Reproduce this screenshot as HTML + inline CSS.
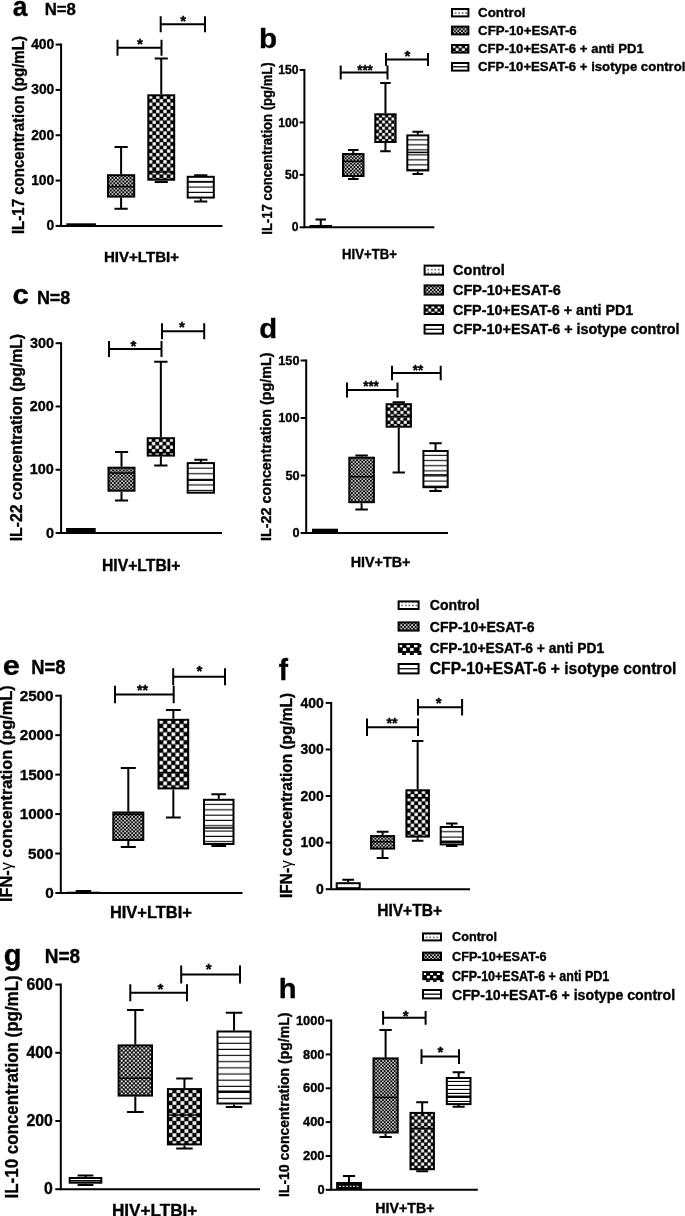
<!DOCTYPE html>
<html><head><meta charset="utf-8"><style>
html,body{margin:0;padding:0;background:#fff;}
svg{display:block;will-change:transform;}
text{font-family:"Liberation Sans",sans-serif;font-size:100px;fill:#000;stroke:#000;stroke-width:0.35px;vector-effect:non-scaling-stroke;}
</style></head><body>
<svg width="685" height="1216" viewBox="0 0 685 1216">
<defs><pattern id="p2" patternUnits="userSpaceOnUse" x="108" y="175.2" width="3.6" height="3.6"><rect width="3.6" height="3.6" fill="#000"/><rect x="0.108" y="0.108" width="1.584" height="1.584" fill="#fff"/><rect x="1.908" y="1.908" width="1.584" height="1.584" fill="#fff"/></pattern><pattern id="p3" patternUnits="userSpaceOnUse" x="148.8" y="95.3" width="7.2" height="7.2"><rect width="7.2" height="7.2" fill="#000"/><rect x="0.18" y="0.18" width="3.24" height="3.24" fill="#fff"/><rect x="3.78" y="3.78" width="3.24" height="3.24" fill="#fff"/></pattern><pattern id="p4" patternUnits="userSpaceOnUse" x="186.7" y="176.8" width="10" height="5.4"><rect width="10" height="5.4" fill="#fff"/><rect y="4.3" width="10" height="1.1" fill="#000"/></pattern><pattern id="p6" patternUnits="userSpaceOnUse" x="343" y="154" width="3.5" height="3.5"><rect width="3.5" height="3.5" fill="#000"/><rect x="0.105" y="0.105" width="1.54" height="1.54" fill="#fff"/><rect x="1.855" y="1.855" width="1.54" height="1.54" fill="#fff"/></pattern><pattern id="p7" patternUnits="userSpaceOnUse" x="375.8" y="114.3" width="6.2" height="6.2"><rect width="6.2" height="6.2" fill="#000"/><rect x="0.155" y="0.155" width="2.79" height="2.79" fill="#fff"/><rect x="3.255" y="3.255" width="2.79" height="2.79" fill="#fff"/></pattern><pattern id="p8" patternUnits="userSpaceOnUse" x="406.3" y="135.4" width="10" height="5"><rect width="10" height="5" fill="#fff"/><rect y="3.9" width="10" height="1.1" fill="#000"/></pattern><pattern id="p10" patternUnits="userSpaceOnUse" x="108.5" y="467.7" width="3.6" height="3.6"><rect width="3.6" height="3.6" fill="#000"/><rect x="0.108" y="0.108" width="1.584" height="1.584" fill="#fff"/><rect x="1.908" y="1.908" width="1.584" height="1.584" fill="#fff"/></pattern><pattern id="p11" patternUnits="userSpaceOnUse" x="148.2" y="438.2" width="7.2" height="7.2"><rect width="7.2" height="7.2" fill="#000"/><rect x="0.18" y="0.18" width="3.24" height="3.24" fill="#fff"/><rect x="3.78" y="3.78" width="3.24" height="3.24" fill="#fff"/></pattern><pattern id="p12" patternUnits="userSpaceOnUse" x="186.7" y="463.1" width="10" height="5.6"><rect width="10" height="5.6" fill="#fff"/><rect y="4.5" width="10" height="1.1" fill="#000"/></pattern><pattern id="p14" patternUnits="userSpaceOnUse" x="349.3" y="457.7" width="3.45" height="3.45"><rect width="3.45" height="3.45" fill="#000"/><rect x="0.104" y="0.104" width="1.518" height="1.518" fill="#fff"/><rect x="1.829" y="1.829" width="1.518" height="1.518" fill="#fff"/></pattern><pattern id="p15" patternUnits="userSpaceOnUse" x="387.1" y="404.2" width="6.6" height="6.6"><rect width="6.6" height="6.6" fill="#000"/><rect x="0.165" y="0.165" width="2.97" height="2.97" fill="#fff"/><rect x="3.465" y="3.465" width="2.97" height="2.97" fill="#fff"/></pattern><pattern id="p16" patternUnits="userSpaceOnUse" x="422.4" y="451" width="10" height="5.1"><rect width="10" height="5.1" fill="#fff"/><rect y="4" width="10" height="1.1" fill="#000"/></pattern><pattern id="p18" patternUnits="userSpaceOnUse" x="113.3" y="812.5" width="3.6" height="3.6"><rect width="3.6" height="3.6" fill="#000"/><rect x="0.108" y="0.108" width="1.584" height="1.584" fill="#fff"/><rect x="1.908" y="1.908" width="1.584" height="1.584" fill="#fff"/></pattern><pattern id="p19" patternUnits="userSpaceOnUse" x="159" y="719.8" width="8.2" height="8.2"><rect width="8.2" height="8.2" fill="#000"/><rect x="0.205" y="0.205" width="3.69" height="3.69" fill="#fff"/><rect x="4.305" y="4.305" width="3.69" height="3.69" fill="#fff"/></pattern><pattern id="p20" patternUnits="userSpaceOnUse" x="203" y="799.8" width="10" height="5.3"><rect width="10" height="5.3" fill="#fff"/><rect y="4.2" width="10" height="1.1" fill="#000"/></pattern><pattern id="p22" patternUnits="userSpaceOnUse" x="371.1" y="836.1" width="3.4" height="3.4"><rect width="3.4" height="3.4" fill="#000"/><rect x="0.102" y="0.102" width="1.496" height="1.496" fill="#fff"/><rect x="1.802" y="1.802" width="1.496" height="1.496" fill="#fff"/></pattern><pattern id="p23" patternUnits="userSpaceOnUse" x="406.9" y="790.3" width="7.4" height="7.4"><rect width="7.4" height="7.4" fill="#000"/><rect x="0.185" y="0.185" width="3.33" height="3.33" fill="#fff"/><rect x="3.885" y="3.885" width="3.33" height="3.33" fill="#fff"/></pattern><pattern id="p24" patternUnits="userSpaceOnUse" x="439.7" y="827" width="10" height="5.3"><rect width="10" height="5.3" fill="#fff"/><rect y="4.2" width="10" height="1.1" fill="#000"/></pattern><pattern id="p26" patternUnits="userSpaceOnUse" x="118.6" y="1045.4" width="4.1" height="4.1"><rect width="4.1" height="4.1" fill="#000"/><rect x="0.123" y="0.123" width="1.804" height="1.804" fill="#fff"/><rect x="2.173" y="2.173" width="1.804" height="1.804" fill="#fff"/></pattern><pattern id="p27" patternUnits="userSpaceOnUse" x="168.4" y="1089.1" width="8" height="8"><rect width="8" height="8" fill="#000"/><rect x="0.2" y="0.2" width="3.6" height="3.6" fill="#fff"/><rect x="4.2" y="4.2" width="3.6" height="3.6" fill="#fff"/></pattern><pattern id="p28" patternUnits="userSpaceOnUse" x="216.5" y="1031.5" width="10" height="6.15"><rect width="10" height="6.15" fill="#fff"/><rect y="5.05" width="10" height="1.1" fill="#000"/></pattern><pattern id="p30" patternUnits="userSpaceOnUse" x="373.5" y="1058.4" width="3.4" height="3.4"><rect width="3.4" height="3.4" fill="#000"/><rect x="0.102" y="0.102" width="1.496" height="1.496" fill="#fff"/><rect x="1.802" y="1.802" width="1.496" height="1.496" fill="#fff"/></pattern><pattern id="p31" patternUnits="userSpaceOnUse" x="411" y="1112.9" width="6.6" height="6.6"><rect width="6.6" height="6.6" fill="#000"/><rect x="0.165" y="0.165" width="2.97" height="2.97" fill="#fff"/><rect x="3.465" y="3.465" width="2.97" height="2.97" fill="#fff"/></pattern><pattern id="p32" patternUnits="userSpaceOnUse" x="445.8" y="1078" width="10" height="4"><rect width="10" height="4" fill="#fff"/><rect y="2.9" width="10" height="1.1" fill="#000"/></pattern><pattern id="p33" patternUnits="userSpaceOnUse" x="453.85" y="11.25" width="3.55" height="3.55"><rect width="3.55" height="3.55" fill="#fff"/><rect x="1.125" y="1.125" width="1.3" height="1.3" fill="#111"/></pattern><pattern id="p34" patternUnits="userSpaceOnUse" x="452" y="26.6" width="3.6" height="3.6"><rect width="3.6" height="3.6" fill="#000"/><rect x="0.108" y="0.108" width="1.584" height="1.584" fill="#fff"/><rect x="1.908" y="1.908" width="1.584" height="1.584" fill="#fff"/></pattern><pattern id="p35" patternUnits="userSpaceOnUse" x="452.5" y="45" width="6.2" height="6.2"><rect width="6.2" height="6.2" fill="#000"/><rect x="0.155" y="0.155" width="2.79" height="2.79" fill="#fff"/><rect x="3.255" y="3.255" width="2.79" height="2.79" fill="#fff"/></pattern><pattern id="p36" patternUnits="userSpaceOnUse" x="426.45" y="267.85" width="3.55" height="3.55"><rect width="3.55" height="3.55" fill="#fff"/><rect x="1.125" y="1.125" width="1.3" height="1.3" fill="#111"/></pattern><pattern id="p37" patternUnits="userSpaceOnUse" x="424.6" y="285.4" width="3.6" height="3.6"><rect width="3.6" height="3.6" fill="#000"/><rect x="0.108" y="0.108" width="1.584" height="1.584" fill="#fff"/><rect x="1.908" y="1.908" width="1.584" height="1.584" fill="#fff"/></pattern><pattern id="p38" patternUnits="userSpaceOnUse" x="425.1" y="305.4" width="6.2" height="6.2"><rect width="6.2" height="6.2" fill="#000"/><rect x="0.155" y="0.155" width="2.79" height="2.79" fill="#fff"/><rect x="3.255" y="3.255" width="2.79" height="2.79" fill="#fff"/></pattern><pattern id="p39" patternUnits="userSpaceOnUse" x="400.45" y="603.65" width="3.55" height="3.55"><rect width="3.55" height="3.55" fill="#fff"/><rect x="1.125" y="1.125" width="1.3" height="1.3" fill="#111"/></pattern><pattern id="p40" patternUnits="userSpaceOnUse" x="398.6" y="622.4" width="3.6" height="3.6"><rect width="3.6" height="3.6" fill="#000"/><rect x="0.108" y="0.108" width="1.584" height="1.584" fill="#fff"/><rect x="1.908" y="1.908" width="1.584" height="1.584" fill="#fff"/></pattern><pattern id="p41" patternUnits="userSpaceOnUse" x="424.85" y="935.65" width="3.55" height="3.55"><rect width="3.55" height="3.55" fill="#fff"/><rect x="1.125" y="1.125" width="1.3" height="1.3" fill="#111"/></pattern><pattern id="p42" patternUnits="userSpaceOnUse" x="423" y="952.6" width="3.6" height="3.6"><rect width="3.6" height="3.6" fill="#000"/><rect x="0.108" y="0.108" width="1.584" height="1.584" fill="#fff"/><rect x="1.908" y="1.908" width="1.584" height="1.584" fill="#fff"/></pattern></defs>
<path d="M61.1 43.6V225.9H222.5" stroke="#000" stroke-width="2" fill="none"/>
<path d="M55.6 225.9H61.1" stroke="#000" stroke-width="2"/>
<text transform="matrix(0.13852,0,0,0.13852,46.566,230.361)" font-weight="bold">0</text>
<path d="M55.6 180.575H61.1" stroke="#000" stroke-width="2"/>
<text transform="matrix(0.13852,0,0,0.13852,31.157,185.036)" font-weight="bold">100</text>
<path d="M55.6 135.25H61.1" stroke="#000" stroke-width="2"/>
<text transform="matrix(0.13852,0,0,0.13852,31.157,139.711)" font-weight="bold">200</text>
<path d="M55.6 89.925H61.1" stroke="#000" stroke-width="2"/>
<text transform="matrix(0.13803,0,0,0.13803,31.236,94.352)" font-weight="bold">300</text>
<path d="M55.6 44.6H61.1" stroke="#000" stroke-width="2"/>
<text transform="matrix(0.13852,0,0,0.13852,31.157,49.061)" font-weight="bold">400</text>
<rect x="66.3" y="223.3" width="29.6" height="2.7" fill="#000"/>
<path d="M121.1 147V174.2M114.473 147H127.727M121.1 197.6V208.7M114.473 208.7H127.727" stroke="#000" stroke-width="2" fill="none"/>
<rect x="108" y="175.2" width="26.2" height="21.4" fill="url(#p2)" stroke="#000" stroke-width="2"/>
<path d="M108 186.6H134.2" stroke="#000" stroke-width="1.5"/>
<path d="M161.25 58.5V94.3M154.694 58.5H167.806M161.25 180.7V182M154.694 182H167.806" stroke="#000" stroke-width="2" fill="none"/>
<rect x="148.3" y="95.3" width="25.9" height="84.4" fill="url(#p3)" stroke="#000" stroke-width="2"/>
<path d="M148.3 172H174.2" stroke="#000" stroke-width="1.5"/>
<path d="M200.75 175.2V175.8M194.147 175.2H207.353M200.75 198.6V201.5M194.147 201.5H207.353" stroke="#000" stroke-width="2" fill="none"/>
<rect x="187.7" y="176.8" width="26.1" height="20.8" fill="url(#p4)" stroke="#000" stroke-width="2"/>
<path d="M187.7 182H213.8" stroke="#000" stroke-width="1.5"/>
<path d="M117.5 39.8V55.8M161.5 39.8V55.8M117.5 47.8H161.5" stroke="#000" stroke-width="2" fill="none"/>
<text transform="matrix(0.15065,0,0,0.1396,136.962,49.297)" font-weight="bold">*</text>
<path d="M160.7 16.3V32.3M205 16.3V32.3M160.7 24.3H205" stroke="#000" stroke-width="2" fill="none"/>
<text transform="matrix(0.15065,0,0,0.1396,180.362,26.197)" font-weight="bold">*</text>
<text transform="matrix(0.26291,0,0,0.27397,12.811,15.526)" font-weight="bold">a</text>
<text transform="matrix(0.16794,0,0,0.17244,44.666,15.128)" font-weight="bold">N=8</text>
<text transform="matrix(0,-0.1505,0.15893,0,23.823,234.116)" font-weight="bold">IL-17 concentration (pg/mL)</text>
<text transform="matrix(0.15105,0,0,0.15273,103.88,261.5)" font-weight="bold">HIV+LTBI+</text>
<path d="M304.4 69V227.3H434.3" stroke="#000" stroke-width="2" fill="none"/>
<path d="M299.6 227.3H304.4" stroke="#000" stroke-width="2"/>
<text transform="matrix(0.12155,0,0,0.12155,291.74,231.478)" font-weight="bold">0</text>
<path d="M299.6 174.867H304.4" stroke="#000" stroke-width="2"/>
<text transform="matrix(0.12155,0,0,0.12155,284.994,179.045)" font-weight="bold">50</text>
<path d="M299.6 122.433H304.4" stroke="#000" stroke-width="2"/>
<text transform="matrix(0.12155,0,0,0.12155,278.217,126.612)" font-weight="bold">100</text>
<path d="M299.6 70H304.4" stroke="#000" stroke-width="2"/>
<text transform="matrix(0.12155,0,0,0.12155,278.217,74.178)" font-weight="bold">150</text>
<path d="M320.75 219.5V225M315.462 219.5H326.038" stroke="#000" stroke-width="2" fill="none"/>
<rect x="309.5" y="225" width="22.5" height="2.3" fill="#000"/>
<path d="M353.25 150V153M347.962 150H358.538M353.25 177V179M347.962 179H358.538" stroke="#000" stroke-width="2" fill="none"/>
<rect x="343" y="154" width="20.5" height="22" fill="url(#p6)" stroke="#000" stroke-width="2"/>
<path d="M343 161.3H363.5" stroke="#000" stroke-width="1.5"/>
<path d="M385.45 83V113.3M380.21 83H390.691M385.45 143V151.2M380.21 151.2H390.691" stroke="#000" stroke-width="2" fill="none"/>
<rect x="375.3" y="114.3" width="20.3" height="27.7" fill="url(#p7)" stroke="#000" stroke-width="2"/>
<path d="M417.8 131.8V134.4M412.395 131.8H423.205M417.8 171.4V174.1M412.395 174.1H423.205" stroke="#000" stroke-width="2" fill="none"/>
<rect x="407.3" y="135.4" width="21" height="35" fill="url(#p8)" stroke="#000" stroke-width="2"/>
<path d="M407.3 152.4H428.3" stroke="#000" stroke-width="1.5"/>
<path d="M340.7 65.5V79.5M387.5 65.5V79.5M340.7 72.5H387.5" stroke="#000" stroke-width="2" fill="none"/>
<text transform="matrix(0.13419,0,0,0.1396,357.166,74.997)" font-weight="bold">***</text>
<path d="M386 53V66M428 53V66M386 59.5H428" stroke="#000" stroke-width="2" fill="none"/>
<text transform="matrix(0.15065,0,0,0.1396,404.562,60.997)" font-weight="bold">*</text>
<text transform="matrix(0.29703,0,0,0.28027,259.069,48.32)" font-weight="bold">b</text>
<text transform="matrix(0,-0.13096,0.1376,0,271.776,234.684)" font-weight="bold">IL-17 concentration (pg/mL)</text>
<text transform="matrix(0.13128,0,0,0.13818,342.114,258.8)" font-weight="bold">HIV+TB+</text>
<path d="M61.1 342.2V533H222" stroke="#000" stroke-width="2" fill="none"/>
<path d="M55.6 533H61.1" stroke="#000" stroke-width="2"/>
<text transform="matrix(0.14417,0,0,0.14417,45.875,537.656)" font-weight="bold">0</text>
<path d="M55.6 469.733H61.1" stroke="#000" stroke-width="2"/>
<text transform="matrix(0.14417,0,0,0.14417,29.836,474.389)" font-weight="bold">100</text>
<path d="M55.6 406.467H61.1" stroke="#000" stroke-width="2"/>
<text transform="matrix(0.14417,0,0,0.14417,29.836,411.122)" font-weight="bold">200</text>
<path d="M55.6 343.2H61.1" stroke="#000" stroke-width="2"/>
<text transform="matrix(0.14366,0,0,0.14366,29.919,347.82)" font-weight="bold">300</text>
<rect x="66" y="528" width="29.7" height="5" fill="#000"/>
<path d="M121.5 452V466.7M114.92 452H128.08M121.5 491.7V500.5M114.92 500.5H128.08" stroke="#000" stroke-width="2" fill="none"/>
<rect x="108.5" y="467.7" width="26" height="23" fill="url(#p10)" stroke="#000" stroke-width="2"/>
<path d="M108.5 473H134.5" stroke="#000" stroke-width="1.5"/>
<path d="M160.85 361.7V437.2M154.2 361.7H167.5M160.85 456.6V465.6M154.2 465.6H167.5" stroke="#000" stroke-width="2" fill="none"/>
<rect x="147.7" y="438.2" width="26.3" height="17.4" fill="url(#p11)" stroke="#000" stroke-width="2"/>
<path d="M147.7 452.6H174" stroke="#000" stroke-width="1.5"/>
<path d="M200.85 459.8V462.1M194.2 459.8H207.5" stroke="#000" stroke-width="2" fill="none"/>
<rect x="187.7" y="463.1" width="26.3" height="29.6" fill="url(#p12)" stroke="#000" stroke-width="2"/>
<path d="M187.7 480.2H214" stroke="#000" stroke-width="1.5"/>
<path d="M109 341V357M161.5 341V357M109 349H161.5" stroke="#000" stroke-width="2" fill="none"/>
<text transform="matrix(0.15065,0,0,0.1396,130.562,351.497)" font-weight="bold">*</text>
<path d="M162 323.3V339.3M204.2 323.3V339.3M162 331.3H204.2" stroke="#000" stroke-width="2" fill="none"/>
<text transform="matrix(0.15065,0,0,0.1396,179.062,332.497)" font-weight="bold">*</text>
<text transform="matrix(0.29333,0,0,0.27945,12.427,304.121)" font-weight="bold">c</text>
<text transform="matrix(0.17986,0,0,0.17951,36.886,303.82)" font-weight="bold">N=8</text>
<text transform="matrix(0,-0.1577,0.16533,0,21.887,541.364)" font-weight="bold">IL-22 concentration (pg/mL)</text>
<text transform="matrix(0.15741,0,0,0.16582,101.937,570.7)" font-weight="bold">HIV+LTBI+</text>
<path d="M306.2 359.5V533H448" stroke="#000" stroke-width="2" fill="none"/>
<path d="M300.7 533H306.2" stroke="#000" stroke-width="2"/>
<text transform="matrix(0.12721,0,0,0.12721,292.449,537.073)" font-weight="bold">0</text>
<path d="M300.7 475.5H306.2" stroke="#000" stroke-width="2"/>
<text transform="matrix(0.12721,0,0,0.12721,285.389,479.573)" font-weight="bold">50</text>
<path d="M300.7 418H306.2" stroke="#000" stroke-width="2"/>
<text transform="matrix(0.12721,0,0,0.12721,278.297,422.073)" font-weight="bold">100</text>
<path d="M300.7 360.5H306.2" stroke="#000" stroke-width="2"/>
<text transform="matrix(0.12721,0,0,0.12721,278.297,364.573)" font-weight="bold">150</text>
<rect x="312" y="528.7" width="26" height="4.3" fill="#000"/>
<path d="M361.6 455.5V456.7M355.349 455.5H367.851M361.6 503.2V509.5M355.349 509.5H367.851" stroke="#000" stroke-width="2" fill="none"/>
<rect x="349.3" y="457.7" width="24.6" height="44.5" fill="url(#p14)" stroke="#000" stroke-width="2"/>
<path d="M349.3 476.7H373.9" stroke="#000" stroke-width="1.5"/>
<path d="M398.75 402.2V403.2M392.57 402.2H404.93M398.75 427.7V472.4M392.57 472.4H404.93" stroke="#000" stroke-width="2" fill="none"/>
<rect x="386.6" y="404.2" width="24.3" height="22.5" fill="url(#p15)" stroke="#000" stroke-width="2"/>
<path d="M386.6 416.5H410.9" stroke="#000" stroke-width="1.5"/>
<path d="M435.55 443.2V450M429.369 443.2H441.73M435.55 488.2V490.9M429.369 490.9H441.73" stroke="#000" stroke-width="2" fill="none"/>
<rect x="423.4" y="451" width="24.3" height="36.2" fill="url(#p16)" stroke="#000" stroke-width="2"/>
<path d="M423.4 474.9H447.7" stroke="#000" stroke-width="1.5"/>
<path d="M347 382.5V397.5M397.5 382.5V397.5M347 390H397.5" stroke="#000" stroke-width="2" fill="none"/>
<text transform="matrix(0.13419,0,0,0.1396,363.166,390.697)" font-weight="bold">***</text>
<path d="M392 365.7V380.3M440.7 365.7V380.3M392 373H440.7" stroke="#000" stroke-width="2" fill="none"/>
<text transform="matrix(0.13419,0,0,0.1396,412.766,374.997)" font-weight="bold">**</text>
<text transform="matrix(0.29307,0,0,0.28299,259.128,337.517)" font-weight="bold">d</text>
<text transform="matrix(0,-0.14322,0.14933,0,270.727,540.967)" font-weight="bold">IL-22 concentration (pg/mL)</text>
<text transform="matrix(0.1436,0,0,0.15418,350.631,566.9)" font-weight="bold">HIV+TB+</text>
<path d="M60.8 694.7V893H242.5" stroke="#000" stroke-width="2" fill="none"/>
<path d="M55.3 893H60.8" stroke="#000" stroke-width="2"/>
<text transform="matrix(0.15286,0,0,0.14841,45.128,898.202)" font-weight="bold">0</text>
<path d="M55.3 853.54H60.8" stroke="#000" stroke-width="2"/>
<text transform="matrix(0.15286,0,0,0.14841,28.122,858.742)" font-weight="bold">500</text>
<path d="M55.3 814.08H60.8" stroke="#000" stroke-width="2"/>
<text transform="matrix(0.15286,0,0,0.14841,19.638,819.282)" font-weight="bold">1000</text>
<path d="M55.3 774.62H60.8" stroke="#000" stroke-width="2"/>
<text transform="matrix(0.15286,0,0,0.14841,19.638,779.822)" font-weight="bold">1500</text>
<path d="M55.3 735.16H60.8" stroke="#000" stroke-width="2"/>
<text transform="matrix(0.15286,0,0,0.14841,19.638,740.362)" font-weight="bold">2000</text>
<path d="M55.3 695.7H60.8" stroke="#000" stroke-width="2"/>
<text transform="matrix(0.15286,0,0,0.14841,19.638,700.902)" font-weight="bold">2500</text>
<path d="M83.4 891.1V891.7M75.739 891.1H91.061" stroke="#000" stroke-width="2" fill="none"/>
<rect x="67.1" y="891.7" width="32.6" height="1.3" fill="#000"/>
<path d="M128.3 768V811.5M120.78 768H135.82M128.3 841V847M120.78 847H135.82" stroke="#000" stroke-width="2" fill="none"/>
<rect x="113.3" y="812.5" width="30" height="27.5" fill="url(#p18)" stroke="#000" stroke-width="2"/>
<path d="M113.3 814.5H143.3" stroke="#000" stroke-width="1.5"/>
<path d="M173.35 710V718.8M165.9 710H180.799M173.35 789.4V817.5M165.9 817.5H180.799" stroke="#000" stroke-width="2" fill="none"/>
<rect x="158.5" y="719.8" width="29.7" height="68.6" fill="url(#p19)" stroke="#000" stroke-width="2"/>
<path d="M158.5 772.5H188.2" stroke="#000" stroke-width="1.5"/>
<path d="M218.75 794.2V798.8M211.347 794.2H226.153M218.75 845V846M211.347 846H226.153" stroke="#000" stroke-width="2" fill="none"/>
<rect x="204" y="799.8" width="29.5" height="44.2" fill="url(#p20)" stroke="#000" stroke-width="2"/>
<path d="M204 828H233.5" stroke="#000" stroke-width="1.5"/>
<path d="M115 685.7V703.3M173.7 685.7V703.3M115 694.5H173.7" stroke="#000" stroke-width="2" fill="none"/>
<text transform="matrix(0.14194,0,0,0.1396,136.965,694.997)" font-weight="bold">**</text>
<path d="M173.2 668.2V685.2M225 668.2V685.2M173.2 676.7H225" stroke="#000" stroke-width="2" fill="none"/>
<text transform="matrix(0.15065,0,0,0.1396,196.562,676.497)" font-weight="bold">*</text>
<text transform="matrix(0.30674,0,0,0.27945,2.873,675.121)" font-weight="bold">e</text>
<text transform="matrix(0.18383,0,0,0.19505,31.259,673.705)" font-weight="bold">N=8</text>
<text transform="matrix(0,-0.1633,0.17387,0,12.105,902.102)" font-weight="bold">IFN-<tspan font-weight="normal">γ</tspan> concentration (pg/mL)</text>
<text transform="matrix(0.1646,0,0,0.16291,109.889,917.8)" font-weight="bold">HIV+LTBI+</text>
<path d="M331.2 701.9V889.2H470" stroke="#000" stroke-width="2" fill="none"/>
<path d="M325.7 889.2H331.2" stroke="#000" stroke-width="2"/>
<text transform="matrix(0.13984,0,0,0.14417,316.098,893.856)" font-weight="bold">0</text>
<path d="M325.7 842.625H331.2" stroke="#000" stroke-width="2"/>
<text transform="matrix(0.13984,0,0,0.14417,300.54,847.281)" font-weight="bold">100</text>
<path d="M325.7 796.05H331.2" stroke="#000" stroke-width="2"/>
<text transform="matrix(0.13984,0,0,0.14417,300.54,800.706)" font-weight="bold">200</text>
<path d="M325.7 749.475H331.2" stroke="#000" stroke-width="2"/>
<text transform="matrix(0.13935,0,0,0.14366,300.62,754.095)" font-weight="bold">300</text>
<path d="M325.7 702.9H331.2" stroke="#000" stroke-width="2"/>
<text transform="matrix(0.13984,0,0,0.14417,300.54,707.556)" font-weight="bold">400</text>
<path d="M348.2 879.7V882.2M342.325 879.7H354.075" stroke="#000" stroke-width="2" fill="none"/>
<rect x="336.7" y="883.2" width="23" height="5" fill="#fff" stroke="#000" stroke-width="2"/>
<path d="M382.6 831.7V835.1M376.725 831.7H388.475M382.6 849.6V858.1M376.725 858.1H388.475" stroke="#000" stroke-width="2" fill="none"/>
<rect x="371.1" y="836.1" width="23" height="12.5" fill="url(#p22)" stroke="#000" stroke-width="2"/>
<path d="M371.1 841.7H394.1" stroke="#000" stroke-width="1.5"/>
<path d="M417.65 740.9V789.3M411.892 740.9H423.407M417.65 837.6V840.7M411.892 840.7H423.407" stroke="#000" stroke-width="2" fill="none"/>
<rect x="406.4" y="790.3" width="22.5" height="46.3" fill="url(#p23)" stroke="#000" stroke-width="2"/>
<path d="M406.4 797.8H428.9" stroke="#000" stroke-width="1.5"/>
<path d="M451.8 823.5V826M446.113 823.5H457.487M451.8 845.4V846M446.113 846H457.487" stroke="#000" stroke-width="2" fill="none"/>
<rect x="440.7" y="827" width="22.2" height="17.4" fill="url(#p24)" stroke="#000" stroke-width="2"/>
<path d="M440.7 841.3H462.9" stroke="#000" stroke-width="1.5"/>
<path d="M367 718.4V736M418 718.4V736M367 727.2H418" stroke="#000" stroke-width="2" fill="none"/>
<text transform="matrix(0.14194,0,0,0.1396,386.465,727.697)" font-weight="bold">**</text>
<path d="M418 699V715.6M462.1 699V715.6M418 707.3H462.1" stroke="#000" stroke-width="2" fill="none"/>
<text transform="matrix(0.15065,0,0,0.1396,435.862,707.897)" font-weight="bold">*</text>
<text transform="matrix(0.27717,0,0,0.2869,278.715,679.6)" font-weight="bold">f</text>
<text transform="matrix(0,-0.15441,0.16213,0,291.955,897.942)" font-weight="bold">IFN-<tspan font-weight="normal">γ</tspan> concentration (pg/mL)</text>
<text transform="matrix(0.15591,0,0,0.16145,377.148,915.5)" font-weight="bold">HIV+TB+</text>
<path d="M60.8 983.6V1189.2H260" stroke="#000" stroke-width="2" fill="none"/>
<path d="M55.3 1189.2H60.8" stroke="#000" stroke-width="2"/>
<text transform="matrix(0.1583,0,0,0.1583,44.047,1194.342)" font-weight="bold">0</text>
<path d="M55.3 1121H60.8" stroke="#000" stroke-width="2"/>
<text transform="matrix(0.1583,0,0,0.1583,26.436,1126.142)" font-weight="bold">200</text>
<path d="M55.3 1052.8H60.8" stroke="#000" stroke-width="2"/>
<text transform="matrix(0.1583,0,0,0.1583,26.436,1057.942)" font-weight="bold">400</text>
<path d="M55.3 984.6H60.8" stroke="#000" stroke-width="2"/>
<text transform="matrix(0.1583,0,0,0.1583,26.436,989.742)" font-weight="bold">600</text>
<path d="M85.5 1175.5V1177M77.604 1175.5H93.396M85.5 1183.7V1185M77.604 1185H93.396" stroke="#000" stroke-width="2" fill="none"/>
<rect x="69.7" y="1178" width="31.6" height="4.7" fill="#fff" stroke="#000" stroke-width="2"/>
<path d="M69.7 1180.7H101.3" stroke="#000" stroke-width="1.5"/>
<path d="M135.3 1010V1044.4M126.981 1010H143.619M135.3 1096.6V1112M126.981 1112H143.619" stroke="#000" stroke-width="2" fill="none"/>
<rect x="118.6" y="1045.4" width="33.4" height="50.2" fill="url(#p26)" stroke="#000" stroke-width="2"/>
<path d="M118.6 1078.2H152" stroke="#000" stroke-width="1.5"/>
<path d="M184.45 1078.5V1088.1M176.201 1078.5H192.698M184.45 1145.4V1148.4M176.201 1148.4H192.698" stroke="#000" stroke-width="2" fill="none"/>
<rect x="167.9" y="1089.1" width="33.1" height="55.3" fill="url(#p27)" stroke="#000" stroke-width="2"/>
<path d="M167.9 1115.1H201" stroke="#000" stroke-width="1.5"/>
<path d="M234.05 1012.7V1030.5M225.802 1012.7H242.299M234.05 1104.5V1107M225.802 1107H242.299" stroke="#000" stroke-width="2" fill="none"/>
<rect x="217.5" y="1031.5" width="33.1" height="72" fill="url(#p28)" stroke="#000" stroke-width="2"/>
<path d="M217.5 1091.2H250.6" stroke="#000" stroke-width="1.5"/>
<path d="M130.3 984.2V1001.2M187 984.2V1001.2M130.3 992.7H187" stroke="#000" stroke-width="2" fill="none"/>
<text transform="matrix(0.15065,0,0,0.1396,157.562,993.997)" font-weight="bold">*</text>
<path d="M181.2 965.5V983.5M240 965.5V983.5M181.2 974.5H240" stroke="#000" stroke-width="2" fill="none"/>
<text transform="matrix(0.15065,0,0,0.1396,205.662,974.497)" font-weight="bold">*</text>
<text transform="matrix(0.29109,0,0,0.29467,3.736,964.538)" font-weight="bold">g</text>
<text transform="matrix(0.19007,0,0,0.19505,44.717,962.905)" font-weight="bold">N=8</text>
<text transform="matrix(0,-0.1695,0.17707,0,18.337,1198.444)" font-weight="bold">IL-10 concentration (pg/mL)</text>
<text transform="matrix(0.17137,0,0,0.17309,111.943,1215.7)" font-weight="bold">HIV+LTBI+</text>
<path d="M331.2 1019.6V1189.8H477.8" stroke="#000" stroke-width="2" fill="none"/>
<path d="M325.7 1189.8H331.2" stroke="#000" stroke-width="2"/>
<text transform="matrix(0.12862,0,0,0.12862,317.376,1193.921)" font-weight="bold">0</text>
<path d="M325.7 1155.96H331.2" stroke="#000" stroke-width="2"/>
<text transform="matrix(0.12862,0,0,0.12862,303.067,1160.081)" font-weight="bold">200</text>
<path d="M325.7 1122.12H331.2" stroke="#000" stroke-width="2"/>
<text transform="matrix(0.12862,0,0,0.12862,303.067,1126.241)" font-weight="bold">400</text>
<path d="M325.7 1088.28H331.2" stroke="#000" stroke-width="2"/>
<text transform="matrix(0.12862,0,0,0.12862,303.067,1092.401)" font-weight="bold">600</text>
<path d="M325.7 1054.44H331.2" stroke="#000" stroke-width="2"/>
<text transform="matrix(0.12862,0,0,0.12862,303.067,1058.561)" font-weight="bold">800</text>
<path d="M325.7 1020.6H331.2" stroke="#000" stroke-width="2"/>
<text transform="matrix(0.12862,0,0,0.12862,295.928,1024.721)" font-weight="bold">1000</text>
<path d="M349.05 1176.1V1182M342.964 1176.1H355.137" stroke="#000" stroke-width="2" fill="none"/>
<rect x="336.1" y="1182" width="25.9" height="7.8" fill="#000"/>
<path d="M385.6 1030V1057.4M379.443 1030H391.757M385.6 1133.5V1136.9M379.443 1136.9H391.757" stroke="#000" stroke-width="2" fill="none"/>
<rect x="373.5" y="1058.4" width="24.2" height="74.1" fill="url(#p30)" stroke="#000" stroke-width="2"/>
<path d="M373.5 1097.4H397.7" stroke="#000" stroke-width="1.5"/>
<path d="M422.2 1102.2V1111.9M416.231 1102.2H428.169M422.2 1170.2V1171.3M416.231 1171.3H428.169" stroke="#000" stroke-width="2" fill="none"/>
<rect x="410.5" y="1112.9" width="23.4" height="56.3" fill="url(#p31)" stroke="#000" stroke-width="2"/>
<path d="M410.5 1128.4H433.9" stroke="#000" stroke-width="1.5"/>
<path d="M458.65 1072.2V1077M452.611 1072.2H464.689M458.65 1105.1V1106.7M452.611 1106.7H464.689" stroke="#000" stroke-width="2" fill="none"/>
<rect x="446.8" y="1078" width="23.7" height="26.1" fill="url(#p32)" stroke="#000" stroke-width="2"/>
<path d="M446.8 1096.3H470.5" stroke="#000" stroke-width="1.5"/>
<path d="M383.1 1010.9V1024.7M425.6 1010.9V1024.7M383.1 1017.8H425.6" stroke="#000" stroke-width="2" fill="none"/>
<text transform="matrix(0.15065,0,0,0.1396,402.662,1020.897)" font-weight="bold">*</text>
<path d="M421.5 1049.2V1064M459 1049.2V1064M421.5 1056.6H459" stroke="#000" stroke-width="2" fill="none"/>
<text transform="matrix(0.15065,0,0,0.1396,437.562,1057.197)" font-weight="bold">*</text>
<path d="M339 1186.3H360" stroke="#fff" stroke-width="1" stroke-dasharray="2 1.5"/>
<text transform="matrix(0.29167,0,0,0.28414,278.858,997.6)" font-weight="bold">h</text>
<text transform="matrix(0,-0.14031,0.15147,0,288.881,1197.047)" font-weight="bold">IL-10 concentration (pg/mL)</text>
<text transform="matrix(0.14187,0,0,0.14836,375.342,1213.4)" font-weight="bold">HIV+TB+</text>
<rect x="452" y="9" width="16.4" height="7.4" fill="url(#p33)" stroke="#000" stroke-width="2"/>
<rect x="452" y="26.6" width="16.4" height="7.8" fill="url(#p34)" stroke="#000" stroke-width="2"/>
<rect x="452" y="45" width="16.4" height="7.6" fill="url(#p35)" stroke="#000" stroke-width="2"/>
<rect x="452" y="63" width="16.4" height="7.6" fill="#fff" stroke="#000" stroke-width="2"/>
<path d="M452 66.8H468.4" stroke="#000" stroke-width="1.3"/>
<text transform="matrix(0.13353,0,0,0.13382,478.066,17)" font-weight="bold">Control</text>
<text transform="matrix(0.13252,0,0,0.13382,478.07,34.7)" font-weight="bold">CFP-10+ESAT-6</text>
<text transform="matrix(0.13171,0,0,0.128,478.073,52.9)" font-weight="bold">CFP-10+ESAT-6 + anti PD1</text>
<text transform="matrix(0.13174,0,0,0.128,478.073,70.8)" font-weight="bold">CFP-10+ESAT-6 + isotype control</text>
<rect x="424.6" y="265.6" width="18.4" height="9" fill="url(#p36)" stroke="#000" stroke-width="2"/>
<rect x="424.6" y="285.4" width="18.4" height="9.2" fill="url(#p37)" stroke="#000" stroke-width="2"/>
<rect x="424.6" y="305.4" width="18.4" height="8.6" fill="url(#p38)" stroke="#000" stroke-width="2"/>
<rect x="424.6" y="325" width="18.4" height="8.6" fill="#fff" stroke="#000" stroke-width="2"/>
<path d="M424.6 329.3H443" stroke="#000" stroke-width="1.3"/>
<text transform="matrix(0.14543,0,0,0.14545,453.018,275.2)" font-weight="bold">Control</text>
<text transform="matrix(0.14485,0,0,0.14545,453.021,294.8)" font-weight="bold">CFP-10+ESAT-6</text>
<text transform="matrix(0.14328,0,0,0.14545,453.027,314.5)" font-weight="bold">CFP-10+ESAT-6 + anti PD1</text>
<text transform="matrix(0.14375,0,0,0.14545,453.025,334.2)" font-weight="bold">CFP-10+ESAT-6 + isotype control</text>
<rect x="398.6" y="601.4" width="20" height="7.6" fill="url(#p39)" stroke="#000" stroke-width="2"/>
<rect x="398.6" y="622.4" width="20" height="8.2" fill="url(#p40)" stroke="#000" stroke-width="2"/>
<rect x="397.9" y="643.1" width="21.7" height="9.8" fill="#000"/><rect x="419.2" y="644" width="2.1" height="3.4" fill="#000"/><rect x="419.2" y="651" width="2.1" height="3.8" fill="#000"/><rect x="402.1" y="652.9" width="3.8" height="2.1" fill="#000"/><rect x="409.8" y="652.9" width="4.0" height="2.1" fill="#000"/><rect x="417.5" y="652.9" width="3.8" height="2.1" fill="#000"/><rect x="399.6" y="645" width="2.5" height="2.3" fill="#fff"/><rect x="406.6" y="645" width="3.2" height="2.3" fill="#fff"/><rect x="414" y="645" width="3.5" height="2.3" fill="#fff"/><rect x="402.8" y="648.1" width="3.3" height="2.9" fill="#fff"/><rect x="410.1" y="648.1" width="3.5" height="2.9" fill="#fff"/>
<rect x="398.6" y="664" width="20" height="9.4" fill="#fff" stroke="#000" stroke-width="2"/>
<path d="M398.6 668.7H418.6" stroke="#000" stroke-width="1.3"/>
<text transform="matrix(0.14049,0,0,0.13964,429.838,610.2)" font-weight="bold">Control</text>
<text transform="matrix(0.14051,0,0,0.14545,429.838,631.5)" font-weight="bold">CFP-10+ESAT-6</text>
<text transform="matrix(0.13842,0,0,0.14255,429.846,652.5)" font-weight="bold">CFP-10+ESAT-6 + anti PD1</text>
<text transform="matrix(0.15646,0,0,0.16291,429.774,674)" font-weight="bold">CFP-10+ESAT-6 + isotype control</text>
<rect x="423" y="933.4" width="18" height="7" fill="url(#p41)" stroke="#000" stroke-width="2"/>
<rect x="423" y="952.6" width="18" height="7.4" fill="url(#p42)" stroke="#000" stroke-width="2"/>
<rect x="422.25" y="971.1" width="19.85" height="9.1" fill="#000"/><rect x="441.7" y="971.75" width="1.9" height="3.15" fill="#000"/><rect x="441.7" y="979.25" width="1.9" height="2.5" fill="#000"/><rect x="426" y="980.2" width="3.9" height="1.7" fill="#000"/><rect x="433" y="980.2" width="3.6" height="1.7" fill="#000"/><rect x="439.9" y="980.2" width="3.4" height="1.7" fill="#000"/><rect x="423.9" y="973" width="2.2" height="2" fill="#fff"/><rect x="430.2" y="973" width="2.8" height="2" fill="#fff"/><rect x="437" y="973" width="2.9" height="2" fill="#fff"/><rect x="426.9" y="975.8" width="3.0" height="2.5" fill="#fff"/><rect x="433.3" y="975.8" width="3.1" height="2.5" fill="#fff"/>
<rect x="423" y="990" width="18" height="8.4" fill="#fff" stroke="#000" stroke-width="2"/>
<path d="M423 994.2H441" stroke="#000" stroke-width="1.3"/>
<text transform="matrix(0.12685,0,0,0.128,451.993,941.1)" font-weight="bold">Control</text>
<text transform="matrix(0.12696,0,0,0.13382,451.992,961.3)" font-weight="bold">CFP-10+ESAT-6</text>
<text transform="matrix(0.12508,0,0,0.13818,452,980.8)" font-weight="bold">CFP-10+ESAT-6 + anti PD1</text>
<text transform="matrix(0.1417,0,0,0.14836,451.933,999.8)" font-weight="bold">CFP-10+ESAT-6 + isotype control</text>
</svg></body></html>
